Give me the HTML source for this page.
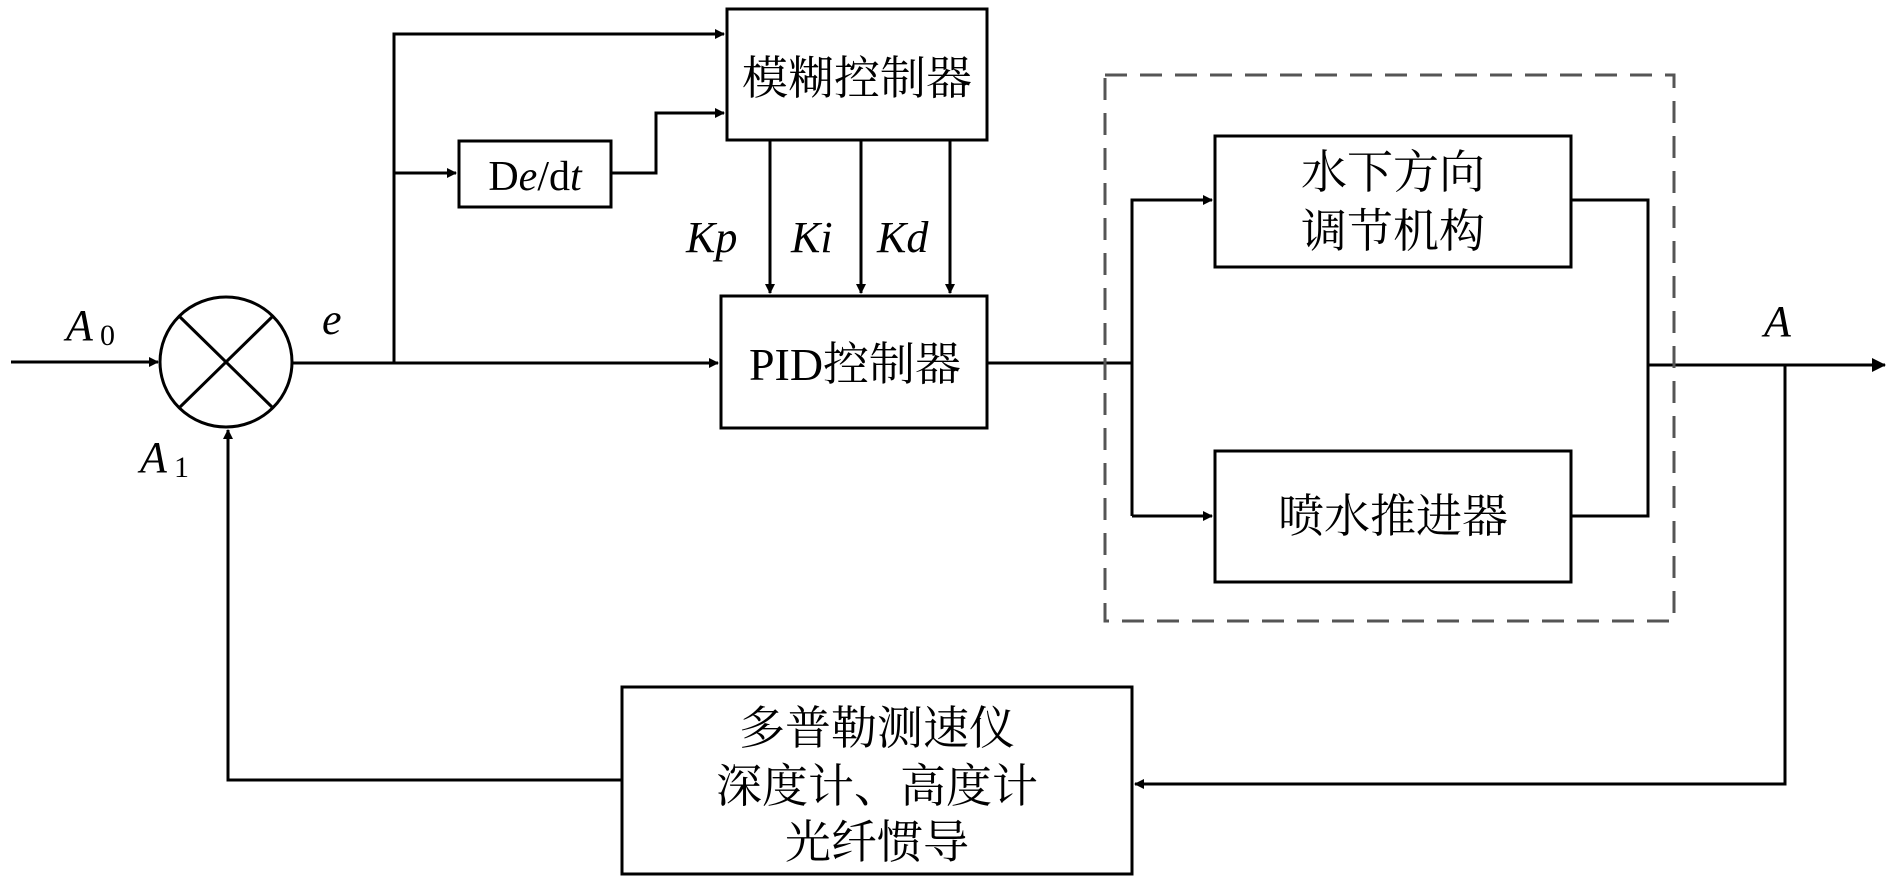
<!DOCTYPE html>
<html><head><meta charset="utf-8"><style>
html,body{margin:0;padding:0;background:#fff;}
svg{display:block;}
text{font-family:"Liberation Serif","Noto Serif CJK SC",serif;fill:#000;}
.cn{font-family:"Liberation Serif","Noto Serif CJK SC","Noto Sans CJK SC",serif;}
</style></head><body>
<svg width="1890" height="883" viewBox="0 0 1890 883" xmlns="http://www.w3.org/2000/svg">
<defs>
<marker id="ar" markerWidth="10" markerHeight="10" refX="9" refY="5" orient="auto" markerUnits="userSpaceOnUse">
<path d="M0,0 L10,5 L0,10 z" fill="#000"/></marker>
<marker id="ar2" markerWidth="14" markerHeight="14" refX="13" refY="7" orient="auto" markerUnits="userSpaceOnUse">
<path d="M0,0 L14,7 L0,14 z" fill="#000"/></marker>
</defs>
<g stroke="#000" stroke-width="3" fill="none">
<!-- boxes -->
<rect x="727" y="9" width="260" height="131"/>
<rect x="459" y="141" width="152" height="66"/>
<rect x="721" y="296" width="266" height="132"/>
<rect x="1215" y="136" width="356" height="131"/>
<rect x="1215" y="451" width="356" height="131"/>
<rect x="622" y="687" width="510" height="187"/>
<ellipse cx="226" cy="362" rx="66" ry="65"/>
<line x1="179" y1="316" x2="273" y2="408"/>
<line x1="273" y1="316" x2="179" y2="408"/>
<!-- main path -->
<line x1="11" y1="362" x2="158" y2="362" marker-end="url(#ar)"/>
<line x1="292" y1="363" x2="718" y2="363" marker-end="url(#ar)"/>
<polyline points="394,363 394,34 724,34" marker-end="url(#ar)"/>
<line x1="394" y1="173" x2="456" y2="173" marker-end="url(#ar)"/>
<polyline points="611,173 656,173 656,113 724,113" marker-end="url(#ar)"/>
<line x1="770" y1="140" x2="770" y2="293" marker-end="url(#ar)"/>
<line x1="861" y1="140" x2="861" y2="293" marker-end="url(#ar)"/>
<line x1="950" y1="140" x2="950" y2="293" marker-end="url(#ar)"/>
<polyline points="987,363 1132,363"/>
<polyline points="1132,516 1132,200 1212,200" marker-end="url(#ar)"/>
<line x1="1132" y1="516" x2="1212" y2="516" marker-end="url(#ar)"/>
<polyline points="1571,200 1648,200 1648,516 1571,516"/>
<line x1="1648" y1="365" x2="1885" y2="365" marker-end="url(#ar2)"/>
<polyline points="1785,365 1785,784 1135,784" marker-end="url(#ar)"/>
<polyline points="622,780 228,780 228,430" marker-end="url(#ar)"/>
</g>
<rect x="1105" y="75" width="569" height="546" fill="none" stroke="#555" stroke-width="3" stroke-dasharray="22,13"/>
<!-- labels -->
<g class="cn" font-size="46" text-anchor="middle">
<text x="857" y="94">模糊控制器</text>
<text x="855" y="380">PID控制器</text>
<text x="1393" y="188">水下方向</text>
<text x="1393" y="247">调节机构</text>
<text x="1393" y="532">喷水推进器</text>
<text x="877" y="744">多普勒测速仪</text>
<text x="877" y="802">深度计、高度计</text>
<text x="877" y="858">光纤惯导</text>
</g>
<text x="535" y="190" font-size="42" text-anchor="middle">D<tspan font-style="italic">e</tspan>/d<tspan font-style="italic">t</tspan></text>
<g font-size="44" font-style="italic">
<text x="686" y="252">Kp</text>
<text x="791" y="252">Ki</text>
<text x="877" y="252">Kd</text>
<text x="322" y="334">e</text>
<text x="1764" y="336">A</text>
<text x="66" y="340">A</text>
<text x="140" y="472">A</text>
</g>
<text x="100" y="345" font-size="30">0</text>
<text x="174" y="477" font-size="30">1</text>
</svg>
</body></html>
